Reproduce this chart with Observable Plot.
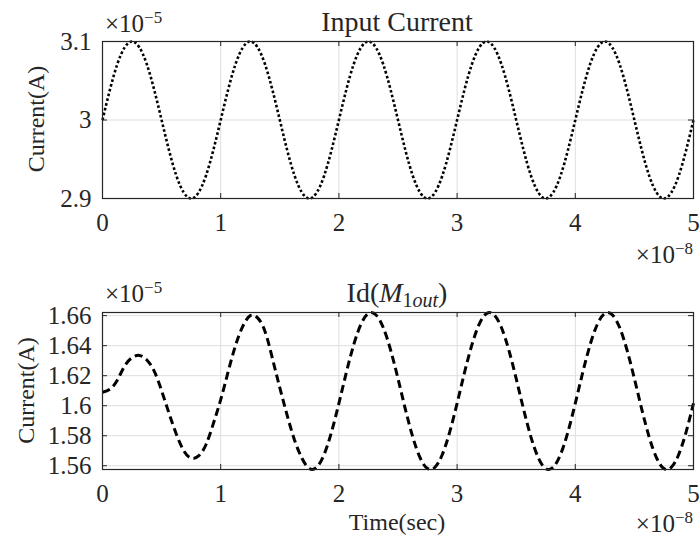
<!DOCTYPE html>
<html>
<head>
<meta charset="utf-8">
<script src="https://cdn.jsdelivr.net/npm/d3@7"></script>
<script src="https://cdn.jsdelivr.net/npm/@observablehq/plot@0.6"></script>
<style>
  body { margin: 0; background: #fff; }
  #chart { width: 700px; height: 540px; }
  #chart svg { display: block; }
  #chart svg text { font-family: "Liberation Serif", serif; font-variant: normal; }
</style>
</head>
<body>
<div id="chart"></div>
<script>
// Sampling intervals of the two traces (units of 1e-8 s)
const dtInput = 0.125;
const dtDrain = 0.0625;

// Input current (units of 1e-5 A), one sample every dtInput
const inputCurrent = [
  3.000, 3.071, 3.100, 3.071, 3.000, 2.929, 2.900, 2.929,
  3.000, 3.071, 3.100, 3.071, 3.000, 2.929, 2.900, 2.929,
  3.000, 3.071, 3.100, 3.071, 3.000, 2.929, 2.900, 2.929,
  3.000, 3.071, 3.100, 3.071, 3.000, 2.929, 2.900, 2.929,
  3.000, 3.071, 3.100, 3.071, 3.000, 2.929, 2.900, 2.929,
  3.000
];

// Drain current of M1out (units of 1e-5 A), one sample every dtDrain
const drainCurrent = [
  // start-up transient, 0 – 2
  1.6090, 1.6110, 1.6170, 1.6265, 1.6320, 1.6335, 1.6305, 1.6230,
  1.6100, 1.5950, 1.5810, 1.5700, 1.5650, 1.5665, 1.5740, 1.5880,
  1.6040, 1.6225, 1.6400, 1.6530, 1.6600, 1.6585, 1.6495, 1.6315,
  1.6120, 1.5935, 1.5770, 1.5650, 1.5581, 1.5590, 1.5675, 1.5825,
  // steady state, 2 – 5
  1.6016, 1.6220, 1.6405, 1.6544, 1.6615, 1.6606, 1.6521, 1.6371,
  1.6180, 1.5976, 1.5791, 1.5652, 1.5581, 1.5590, 1.5675, 1.5825,
  1.6016, 1.6220, 1.6405, 1.6544, 1.6615, 1.6606, 1.6521, 1.6371,
  1.6180, 1.5976, 1.5791, 1.5652, 1.5581, 1.5590, 1.5675, 1.5825,
  1.6016, 1.6220, 1.6405, 1.6544, 1.6615, 1.6606, 1.6521, 1.6371,
  1.6180, 1.5976, 1.5791, 1.5652, 1.5581, 1.5590, 1.5675, 1.5825,
  1.6016
];

const xTicks = [0, 1, 2, 3, 4, 5];
const xTickLabels = ["0", "1", "2", "3", "4", "5"];
const yTicksInput = [2.9, 3, 3.1];
const yTickLabelsInput = ["2.9", "3", "3.1"];
const yTicksDrain = [1.56, 1.58, 1.6, 1.62, 1.64, 1.66];
const yTickLabelsDrain = ["1.56", "1.58", "1.6", "1.62", "1.64", "1.66"];

const FONT = "Liberation Serif";
const INK = "#262626";
const W = 700, H = 270, ML = 102, MR = 7;

function toRows(values, dt) {
  return values.map((v, i) => ({t: i * dt, v}));
}

function panel({rows, yDomain, yTicks, yLabels, marginTop, marginBottom, line}) {
  const [x0, x1] = [xTicks[0], xTicks[xTicks.length - 1]];
  const [y0, y1] = yDomain;
  const tickPx = 5;
  const dx = tickPx * (x1 - x0) / (W - ML - MR);
  const dy = tickPx * (y1 - y0) / (H - marginTop - marginBottom);
  const xLab = new Map(xTicks.map((d, i) => [d, xTickLabels[i]]));
  const yLab = new Map(yTicks.map((d, i) => [d, yLabels[i]]));
  return Plot.plot({
    width: W, height: H,
    marginLeft: ML, marginRight: MR, marginTop, marginBottom,
    style: {fontFamily: FONT, color: INK, background: "white", overflow: "visible"},
    x: {domain: [x0, x1]},
    y: {domain: yDomain},
    marks: [
      Plot.gridX(xTicks, {stroke: "#dedede", strokeOpacity: 1, strokeWidth: 1}),
      Plot.gridY(yTicks, {stroke: "#dedede", strokeOpacity: 1, strokeWidth: 1}),
      Plot.line(rows, {x: "t", y: "v", curve: "natural", stroke: "#000",
        strokeLinecap: "butt", strokeLinejoin: "miter", ...line}),
      Plot.frame({stroke: INK, strokeWidth: 1.2}),
      // inward tick marks on all four sides
      Plot.ruleX(xTicks, {x: d => d, y1: y0, y2: y0 + dy, stroke: INK, strokeWidth: 1}),
      Plot.ruleX(xTicks, {x: d => d, y1: y1 - dy, y2: y1, stroke: INK, strokeWidth: 1}),
      Plot.ruleY(yTicks, {y: d => d, x1: x0, x2: x0 + dx, stroke: INK, strokeWidth: 1}),
      Plot.ruleY(yTicks, {y: d => d, x1: x1 - dx, x2: x1, stroke: INK, strokeWidth: 1}),
      Plot.axisX(xTicks, {tickSize: 0, tickPadding: 15, fontSize: 25, fontFamily: FONT,
        fontVariant: "normal", label: null, tickFormat: d => xLab.get(d)}),
      Plot.axisY(yTicks, {tickSize: 0, tickPadding: 11, fontSize: 25, fontFamily: FONT,
        fontVariant: "normal", label: null, tickFormat: d => yLab.get(d)})
    ]
  });
}

function addText(svg, {x, y, size, anchor = "start", rotate = 0, parts}) {
  const t = d3.select(svg).append("text")
    .attr("transform", `translate(${x},${y}) rotate(${rotate})`)
    .attr("text-anchor", anchor)
    .style("font-family", FONT)
    .attr("font-size", size)
    .attr("fill", INK);
  for (const p of parts) {
    const s = t.append("tspan").text(p.text);
    if (p.size) s.attr("font-size", p.size);
    if (p.dy) s.attr("dy", p.dy);
    if (p.italic) s.attr("font-style", "italic");
  }
  return t;
}

function exponent(svg, x, y, anchor, power) {
  addText(svg, {x, y, size: 25, anchor, parts: [
    {text: "×10"},
    {text: power, size: 17, dy: -9}
  ]});
}

const chart = document.getElementById("chart");

// Upper panel: input current
const upperPanel = panel({
  rows: toRows(inputCurrent, dtInput),
  yDomain: [2.9, 3.1], yTicks: yTicksInput, yLabels: yTickLabelsInput,
  marginTop: 41, marginBottom: 72,
  line: {strokeWidth: 2.6, strokeDasharray: "2.6,2.3"}
});
addText(upperPanel, {x: 397, y: 31, size: 28, anchor: "middle", parts: [{text: "Input Current"}]});
addText(upperPanel, {x: 43.5, y: 119, size: 24, anchor: "middle", rotate: -90, parts: [{text: "Current(A)"}]});
exponent(upperPanel, 105, 32, "start", "−5");
exponent(upperPanel, 693, 263, "end", "−8");
chart.appendChild(upperPanel);

// Lower panel: drain current of M1out
const lowerPanel = panel({
  rows: toRows(drainCurrent, dtDrain),
  yDomain: [1.5575, 1.6621], yTicks: yTicksDrain, yLabels: yTickLabelsDrain,
  marginTop: 42, marginBottom: 71,
  line: {strokeWidth: 3, strokeDasharray: "8,4.5"}
});
addText(lowerPanel, {x: 397, y: 31.5, size: 28, anchor: "middle", parts: [
  {text: "Id("},
  {text: "M", italic: true},
  {text: "1", size: 20, dy: 5},
  {text: "out", size: 20, italic: true},
  {text: ")", dy: -5}
]});
addText(lowerPanel, {x: 33.5, y: 120.5, size: 24, anchor: "middle", rotate: -90, parts: [{text: "Current(A)"}]});
addText(lowerPanel, {x: 397, y: 260, size: 24, anchor: "middle", parts: [{text: "Time(sec)"}]});
exponent(lowerPanel, 105, 32, "start", "−5");
exponent(lowerPanel, 693, 262, "end", "−8");
chart.appendChild(lowerPanel);
</script>
</body>
</html>
